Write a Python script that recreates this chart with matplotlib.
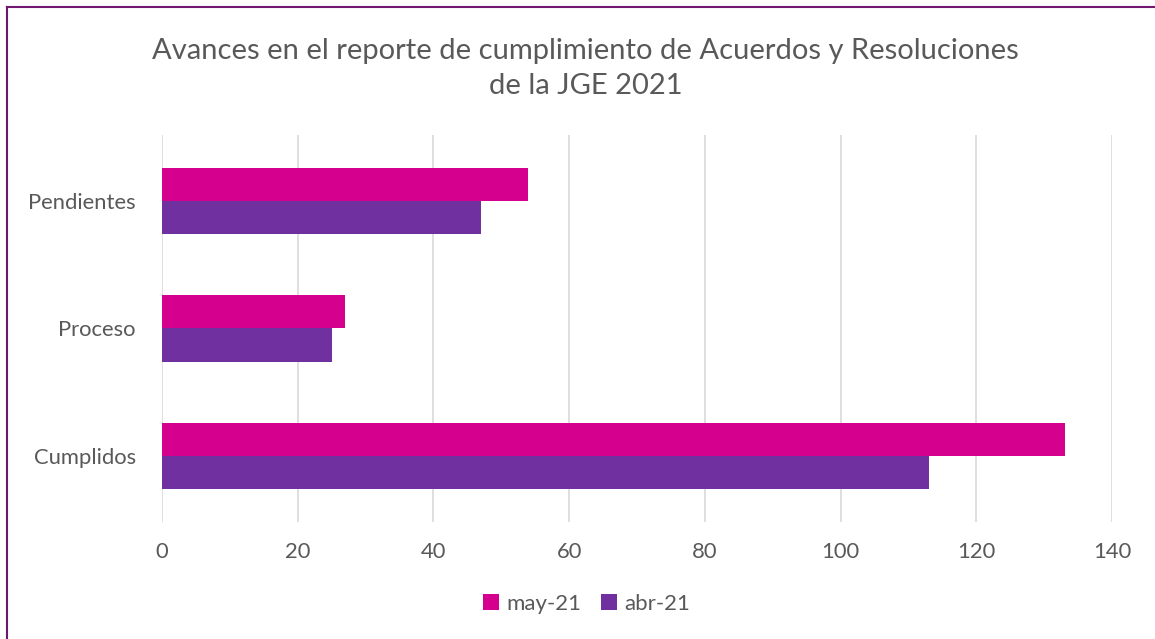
import matplotlib
matplotlib.use("Agg")
import matplotlib.pyplot as plt
from matplotlib.lines import Line2D
import numpy as np

categories = ["Cumplidos", "Proceso", "Pendientes"]
may21 = [133, 27, 54]
abr21 = [113, 25, 47]
series_names = ["may-21", "abr-21"]
xticks = [0, 20, 40, 60, 80, 100, 120, 140]

plt.rcParams['font.family'] = ['Lato', 'DejaVu Sans']

fig = plt.figure(figsize=(11.55, 6.39), dpi=100)
ax = fig.add_axes([0.1403, 0.183, 0.8225, 0.606])

y = np.arange(len(categories))
h = 0.26
c_may = "#D6008F"
c_abr = "#7030A0"
ax.barh(y + h/2, may21, height=h, color=c_may, label=series_names[0], zorder=3)
ax.barh(y - h/2, abr21, height=h, color=c_abr, label=series_names[1], zorder=3)

ax.set_xlim(0, 140)
ax.set_ylim(-0.52, 2.52)
ax.set_xticks(xticks)
ax.set_yticks(y)
ax.set_yticklabels(categories)
ax.grid(axis='x', color='#D9D9D9', linewidth=1.2, zorder=0)
for s in ax.spines.values():
    s.set_visible(False)
ax.tick_params(axis='both', length=0, labelsize=15.8, colors='#595959')
ax.tick_params(axis='x', pad=14)
ax.tick_params(axis='y', pad=19)

fig.text(0.507, 0.893, "Avances en el reporte de cumplimiento de Acuerdos y Resoluciones\nde la JGE 2021",
         ha='center', va='center', fontsize=21, color='#595959', linespacing=1.4)

leg = fig.legend(loc='center', bbox_to_anchor=(0.508, 0.055), ncol=2, frameon=False,
                 fontsize=16, handlelength=0.7, handleheight=0.7, handletextpad=0.35,
                 columnspacing=0.9)
for t in leg.get_texts():
    t.set_color('#595959')

# frame border (left and top)
fig.add_artist(Line2D([7/1155, 7/1155], [0, 1 - 7/639], color='#70186F', linewidth=1.5, transform=fig.transFigure))
fig.add_artist(Line2D([7/1155, 1], [1 - 7/639, 1 - 7/639], color='#70186F', linewidth=1.5, transform=fig.transFigure))

fig.savefig("out.png", dpi=100)
